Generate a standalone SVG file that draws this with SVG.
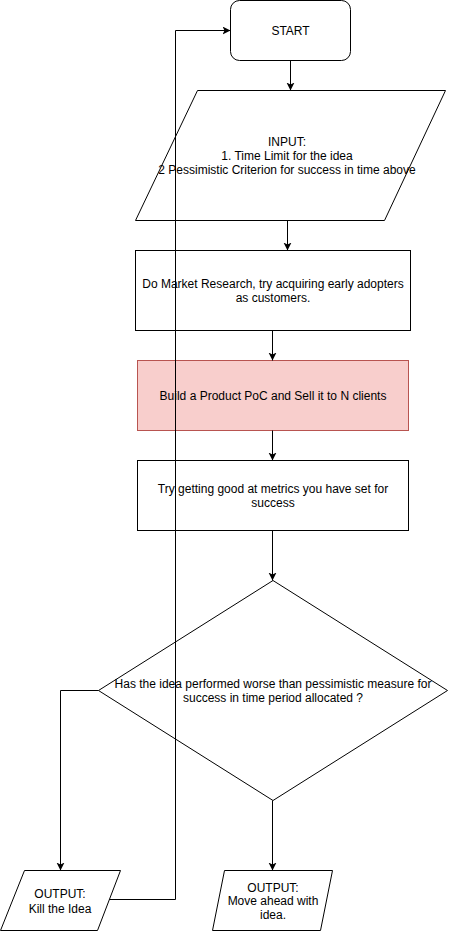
<svg xmlns="http://www.w3.org/2000/svg" width="449" height="931" viewBox="0 0 449 931">
<defs>
<marker id="arr" markerUnits="userSpaceOnUse" markerWidth="10" markerHeight="10" refX="8" refY="4" orient="auto">
<path d="M0,0 L8,4 L0,8 L2,4 Z" fill="#000"/>
</marker>
<style>
.n{fill:#fff;stroke:#000;stroke-width:1}
.t{font-family:"Liberation Sans",Arial,Helvetica,sans-serif;font-size:12px;fill:#000;text-anchor:middle}
.c{fill:none;stroke:#000;stroke-width:1;marker-end:url(#arr)}
</style>
</defs>
<rect width="449" height="931" fill="#fff"/>
<g id="start">
<rect class="n" x="230.5" y="0.5" width="120" height="60" rx="9" ry="9"/>
<text class="t" x="290.5" y="34.5">START</text>
</g>
<g id="input">
<polygon class="n" points="197.5,90.5 445.5,90.5 384.5,220.5 135.5,220.5"/>
<text class="t" x="287" y="146">INPUT:</text>
<text class="t" x="287" y="160">1. Time Limit for the idea</text>
<text class="t" x="287" y="174">2 Pessimistic Criterion for success in time above</text>
</g>
<g id="market">
<rect class="n" x="135.5" y="250.5" width="275" height="80"/>
<text class="t" x="273" y="287.5">Do Market Research, try acquiring early adopters</text>
<text class="t" x="273" y="302">as customers.</text>
</g>
<g id="build">
<rect x="137.5" y="360.5" width="271" height="70" fill="#f8cecc" stroke="#b85450" stroke-width="1"/>
<text class="t" x="273" y="400">Build a Product PoC and Sell it to N clients</text>
</g>
<g id="metrics">
<rect class="n" x="137.5" y="460.5" width="271" height="70"/>
<text class="t" x="273" y="492.5">Try getting good at metrics you have set for</text>
<text class="t" x="273" y="507">success</text>
</g>
<g id="decision">
<polygon class="n" points="273,580.5 447.5,690.5 273,800.5 98.5,690.5"/>
<text class="t" x="273" y="688">Has the idea performed worse than pessimistic measure for</text>
<text class="t" x="273" y="702">success in time period allocated ?</text>
</g>
<g id="kill">
<polygon class="n" points="24.5,870.5 120.5,870.5 97.5,930.5 0.5,930.5"/>
<text class="t" x="60" y="898">OUTPUT:</text>
<text class="t" x="60" y="912.5">Kill the Idea</text>
</g>
<g id="ahead">
<polygon class="n" points="224.5,870.5 332.5,870.5 320.5,930.5 212.5,930.5"/>
<text class="t" x="273" y="891.5">OUTPUT:</text>
<text class="t" x="273" y="905">Move ahead with</text>
<text class="t" x="273" y="919">idea.</text>
</g>
<g id="connectors">
<path class="c" d="M290.5,60.5 L290.5,90.5"/>
<path class="c" d="M287.5,220.5 L287.5,250.5"/>
<path class="c" d="M272.5,330.5 L272.5,360.5"/>
<path class="c" d="M272.5,430.5 L272.5,460.5"/>
<path class="c" d="M272.5,530.5 L272.5,580.5"/>
<path class="c" d="M98.5,690.5 L60.5,690.5 L60.5,870.5"/>
<path class="c" d="M272.5,800.5 L272.5,870.5"/>
<path class="c" d="M109.5,899.5 L175.5,899.5 L175.5,30.5 L230.5,30.5"/>
</g>
</svg>
